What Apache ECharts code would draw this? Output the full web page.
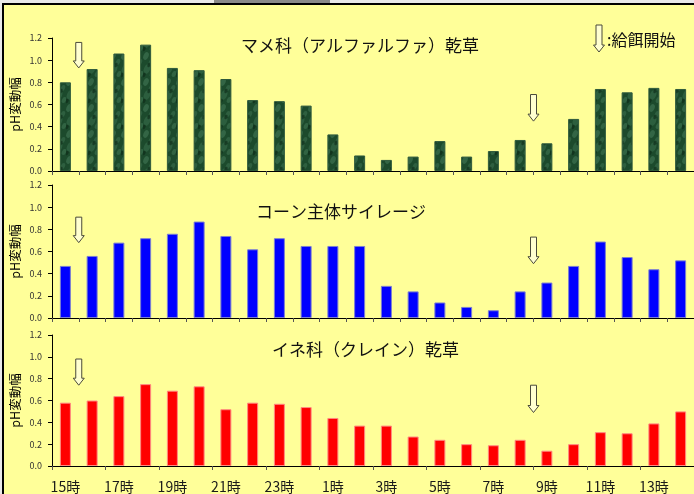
<!DOCTYPE html>
<html>
<head>
<meta charset="utf-8">
<script src="https://cdn.jsdelivr.net/npm/echarts@6/dist/echarts.min.js"></script>
<style>
    html, body { margin: 0; padding: 0; background: #e9e9e9; }
    #main { width: 694px; height: 494px; }
</style>
</head>
<body>
<div id="main"></div>
<script>
    // 時刻（15時〜翌14時）
    var hours = ['15時','16時','17時','18時','19時','20時','21時','22時','23時','0時','1時','2時',
                 '3時','4時','5時','6時','7時','8時','9時','10時','11時','12時','13時','14時'];
    // pH変動幅
    var alfalfa = [0.80,0.92,1.06,1.14,0.93,0.91,0.83,0.64,0.63,0.59,0.33,0.14,
                   0.10,0.13,0.27,0.13,0.18,0.28,0.25,0.47,0.74,0.71,0.75,0.74];
    var cornSilage = [0.47,0.56,0.68,0.72,0.76,0.87,0.74,0.62,0.72,0.65,0.65,0.65,
                      0.29,0.24,0.14,0.10,0.07,0.24,0.32,0.47,0.69,0.55,0.44,0.52];
    var ineHay = [0.58,0.60,0.64,0.75,0.69,0.73,0.52,0.58,0.57,0.54,0.44,0.37,
                  0.37,0.27,0.24,0.20,0.19,0.24,0.14,0.20,0.31,0.30,0.39,0.50];
    var panelTitles = ['マメ科（アルファルファ）乾草', 'コーン主体サイレージ', 'イネ科（クレイン）乾草'];
    // 給餌開始（この区切りの直後）
    var feedAfter = [0, 17];
    var arrowTop = [[1.16, 0.69], [0.91, 0.73], [0.98, 0.74]];
    var arrowTip = [[0.93, 0.45], [0.68, 0.49], [0.74, 0.49]];

    var FONT = '"Noto Sans CJK JP", "Noto Sans", sans-serif';
    var grids = [
        {left: 52, width: 644, top: 38, height: 133},
        {left: 52, width: 644, top: 185, height: 133},
        {left: 52, width: 644, top: 335, height: 132}
    ];

    // 緑のまだら模様
    function greenTexture() {
        var c = document.createElement('canvas');
        c.width = 11; c.height = 26;
        var g = c.getContext('2d');
        g.fillStyle = '#1c4a2c';
        g.fillRect(0, 0, 11, 26);
        var spots = [[3, 4, 2.5, 'rgba(80,135,100,0.45)'], [8, 10, 2, 'rgba(80,135,100,0.35)'],
                     [4, 17, 3, 'rgba(70,125,90,0.4)'], [9, 22, 2, 'rgba(90,145,110,0.35)'],
                     [6, 13, 1.5, 'rgba(12,40,22,0.6)'], [1, 23, 1.5, 'rgba(12,40,22,0.6)']];
        spots.forEach(function (s) {
            g.fillStyle = s[3];
            g.beginPath();
            g.ellipse(s[0], s[1], s[2], s[2] * 1.6, 0.4, 0, Math.PI * 2);
            g.fill();
        });
        return c;
    }

    var seriesData = [alfalfa, cornSilage, ineHay];
    var barColors = [
        {image: greenTexture(), repeat: 'repeat'},
        '#0000ff',
        '#ff0000'
    ];
    var barBorders = ['#2f5a3c', '#7b7fd0', '#ff8a80'];

    var xAxes = [], yAxes = [], series = [], titles = [];
    for (var i = 0; i < 3; i++) {
        var last = i === 2;
        xAxes.push({
            gridIndex: i,
            type: 'category',
            data: hours,
            boundaryGap: true,
            axisLine: {lineStyle: {color: '#000', width: 1}},
            axisTick: {show: true, interval: last ? 1 : 0, length: 4, lineStyle: {color: '#555'}},
            axisLabel: {show: last, interval: 1, margin: 14, fontSize: 14, color: '#1a1a1a', fontFamily: FONT},
            splitLine: {show: false}
        });
        yAxes.push({
            gridIndex: i,
            type: 'value',
            min: 0, max: 1.2, interval: 0.2,
            name: 'pH変動幅',
            nameLocation: 'middle',
            nameRotate: 90,
            nameGap: 30,
            nameMoveOverlap: false,
            nameTextStyle: {fontSize: 12.5, color: '#000', fontFamily: FONT},
            axisLine: {show: true, lineStyle: {color: '#000'}},
            axisTick: {show: true, length: 4, lineStyle: {color: '#000'}},
            axisLabel: {fontSize: 9, color: '#333', margin: 10, fontFamily: FONT,
                formatter: function (v) { return v.toFixed(1); }},
            splitLine: {show: false}
        });
        series.push({
            type: 'bar',
            xAxisIndex: i,
            yAxisIndex: i,
            data: seriesData[i],
            barWidth: 11,
            itemStyle: {color: barColors[i], borderColor: barBorders[i], borderWidth: 1}
        });
    }
    titles = [
        {text: panelTitles[0], left: 236, top: 32},
        {text: panelTitles[1], left: 251, top: 198},
        {text: panelTitles[2], left: 267, top: 336}
    ];
    titles.forEach(function (t) {
        t.textStyle = {fontSize: 17, fontWeight: 'normal', color: '#111', fontFamily: FONT};
    });

    var myChart = echarts.init(document.getElementById('main'));
    myChart.setOption({
        animation: false,
        backgroundColor: 'transparent',
        title: titles,
        grid: grids,
        xAxis: xAxes,
        yAxis: yAxes,
        series: series,
        graphic: [
            {type: 'rect', z: -10, shape: {x: 3, y: 4, width: 700, height: 500},
             style: {fill: '#ffff99', stroke: '#000', lineWidth: 2}},
            {type: 'rect', z: -11, shape: {x: 214, y: 0, width: 116, height: 3}, style: {fill: '#8a8a8a'}}
        ]
    });

    // 矢印
    function arrowShape(cx, yTop, yTip) {
        var hh = 7;
        return [[cx - 3, yTop], [cx + 3, yTop], [cx + 3, yTip - hh], [cx + 5.5, yTip - hh],
                [cx, yTip], [cx - 5.5, yTip - hh], [cx - 3, yTip - hh]];
    }
    var arrows = [];
    for (var p = 0; p < 3; p++) {
        for (var a = 0; a < feedAfter.length; a++) {
            var c0 = myChart.convertToPixel({xAxisIndex: p, yAxisIndex: p}, [feedAfter[a], arrowTop[p][a]]);
            var c1 = myChart.convertToPixel({xAxisIndex: p, yAxisIndex: p}, [feedAfter[a] + 1, arrowTip[p][a]]);
            var cx = (c0[0] + c1[0]) / 2;
            arrows.push({type: 'polygon', z: 20, shape: {points: arrowShape(cx, c0[1], c1[1])},
                         style: {fill: '#ffffd0', stroke: '#4a4a3a', lineWidth: 1}});
        }
    }
    // 凡例
    arrows.push({type: 'polygon', z: 20, shape: {points: arrowShape(599, 25, 52)},
                 style: {fill: '#ffffd0', stroke: '#4a4a3a', lineWidth: 1}});
    arrows.push({type: 'text', z: 20, x: 607, y: 40,
                 style: {text: ':給餌開始', fill: '#111', fontSize: 16, fontFamily: FONT, verticalAlign: 'middle'}});

    var opt = myChart.getOption();
    myChart.setOption({graphic: opt.graphic[0].elements.concat(arrows)}, {replaceMerge: ['graphic']});
</script>
</body>
</html>
